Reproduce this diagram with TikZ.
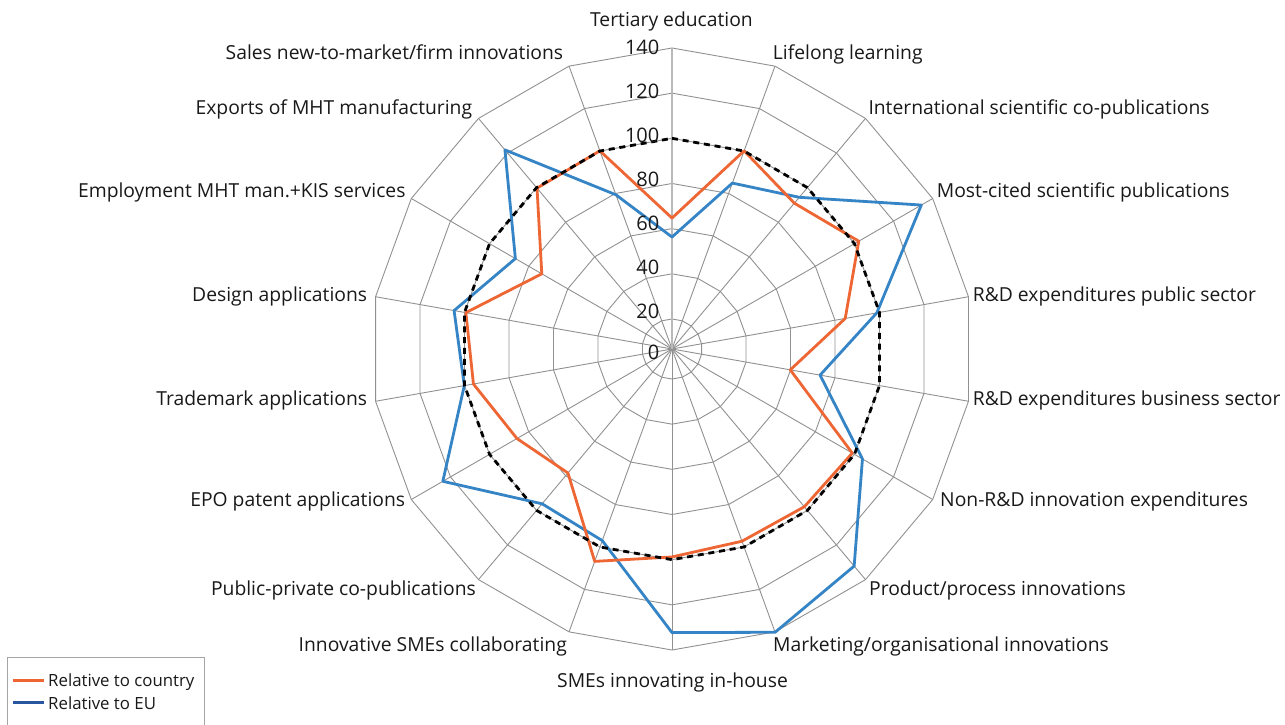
\documentclass[tikz,border=0pt]{standalone}
\usepackage{fontspec}
\setmainfont{Open Sans}
\definecolor{sercountry}{RGB}{237,102,51}
\definecolor{sereu}{RGB}{52,132,198}
\definecolor{legeu}{RGB}{40,86,160}
\definecolor{gridgray}{RGB}{145,145,145}
\definecolor{axisgray}{RGB}{185,185,185}
\definecolor{framegray}{RGB}{165,165,165}
\definecolor{txtgray}{RGB}{25,25,25}
\begin{document}
\begin{tikzpicture}[x=1pt,y=1pt,
  gridline/.style={draw=gridgray, line width=0.9pt},
  axisline/.style={draw=axisgray, line width=1.8pt},
  countryline/.style={draw=sercountry, line width=2.8pt, line join=round},
  euline/.style={draw=sereu, line width=2.8pt, line join=round},
  legeuline/.style={draw=legeu, line width=2.8pt},
  refline/.style={draw=black, line width=2.8pt, dash pattern=on 6pt off 4.8pt},
  catlabel/.style={font=\fontsize{19.3}{22}\selectfont, text=txtgray, inner sep=0pt},
  vallabel/.style={font=\fontsize{20}{24}\selectfont, text=txtgray, inner sep=0pt, anchor=east},
  legendtext/.style={font=\fontsize{16.8}{20}\selectfont, text=txtgray, inner sep=0pt, anchor=base west},
  legendframe/.style={draw=framegray, line width=0.9pt},
]
\useasboundingbox (0,0) rectangle (1285,724);
\fill[white] (0,0) rectangle (1285,724);
\coordinate (C) at (672,375);
\begin{scope}[shift={(672,375)}]
  % grid rings
  \foreach \k in {1,...,7}{
    \pgfmathsetmacro{\rr}{45.17*\k-15.17}
    \draw[gridline] (90:\rr) \foreach \i in {1,...,17}{ -- ({90-20*\i}:\rr)} -- cycle;
  }
  % spokes
  \foreach \i in {1,...,17}{ \draw[gridline] (0,0) -- ({90-20*\i}:301); }
  \draw[axisline] (0,0) -- (90:301);
  % data: relative to EU
  \foreach \v [count=\i from 0] in {56.3,84.9,94.4,134.2,98.8,73.3,104.1,132.2,140.2,132.3,97.0,96.2,123.9,100.1,104.7,86.8,121.8,79.4}{
    \pgfmathsetmacro{\rr}{2.2583*\v-15.17}
    \coordinate (e\i) at ({90-20*\i}:\rr);
  }
  % data: relative to country
  \foreach \v [count=\i from 0] in {64.7,100.1,91.0,102.2,84.6,59.9,98.9,97.9,97.3,98.8,106.8,78.4,86.0,96.0,99.4,73.3,99.7,100.1}{
    \pgfmathsetmacro{\rr}{2.2583*\v-15.17}
    \coordinate (c\i) at ({90-20*\i}:\rr);
  }
  % reference (=100)
  \foreach \i in {0,...,17}{
    \coordinate (r\i) at ({90-20*\i}:210.68);
  }
  \draw[euline] (e0) \foreach \i in {1,...,17}{ -- (e\i)} -- cycle;
  \draw[countryline] (c0) \foreach \i in {1,...,17}{ -- (c\i)} -- cycle;
  \draw[refline] (r0) \foreach \i in {1,...,17}{ -- (r\i)} -- cycle;
\end{scope}
% value axis labels
\node[vallabel] (v0) at (659.5,{724-352}) {0};
\foreach \k in {1,...,7}{
  \node[vallabel] (v\k) at (659.5,{724-311.5+44*(\k-1)}) {\the\numexpr20*\k\relax};
}
% category labels
\node[catlabel, anchor=base] (l0) at (671.5,{724-26.7}) {Tertiary education};
\node[catlabel, anchor=base west] (l1) at (772.7,{724-59.3}) {Lifelong learning};
\node[catlabel, anchor=base west] (l2) at (868.3,{724-115}) {International scientific co-publications};
\node[catlabel, anchor=base west] (l3) at (936.7,{724-197.7}) {Most-cited scientific publications};
\node[catlabel, anchor=base west] (l4) at (972.7,{724-301.7}) {R\&D expenditures public sector};
\node[catlabel, anchor=base west] (l5) at (972.7,{724-405}) {R\&D expenditures business sector};
\node[catlabel, anchor=base west] (l6) at (940,{724-506}) {Non-R\&D innovation expenditures};
\node[catlabel, anchor=base west] (l7) at (869,{724-595}) {Product/process innovations};
\node[catlabel, anchor=base west] (l8) at (773,{724-651.7}) {Marketing/organisational innovations};
\node[catlabel, anchor=base] (l9) at (672.5,{724-687.3}) {SMEs innovating in-house};
\node[catlabel, anchor=base east] (l10) at (567,{724-651.7}) {Innovative SMEs collaborating};
\node[catlabel, anchor=base east] (l11) at (476,{724-595}) {Public-private co-publications};
\node[catlabel, anchor=base east] (l12) at (405.3,{724-506}) {EPO patent applications};
\node[catlabel, anchor=base east] (l13) at (367.3,{724-405}) {Trademark applications};
\node[catlabel, anchor=base east] (l14) at (367.3,{724-301.7}) {Design applications};
\node[catlabel, anchor=base east] (l15) at (405.7,{724-197.7}) {Employment MHT man.+KIS services};
\node[catlabel, anchor=base east] (l16) at (472.3,{724-115}) {Exports of MHT manufacturing};
\node[catlabel, anchor=base east] (l17) at (563.3,{724-59.3}) {Sales new-to-market/firm innovations};
% legend
\draw[legendframe] (7.5,{724-657.5}) rectangle (204.5,-5);
\coordinate (lca) at (13,{724-680.7});
\coordinate (lcb) at (44,{724-680.7});
\coordinate (lea) at (13,{724-702.7});
\coordinate (leb) at (44,{724-702.7});
\draw[countryline] (lca) -- (lcb);
\draw[legeuline] (lea) -- (leb);
\node[legendtext] (lgc) at (48,{724-686.7}) {Relative to country};
\node[legendtext] (lge) at (48,{724-709.3}) {Relative to EU};
\end{tikzpicture}
\end{document}
